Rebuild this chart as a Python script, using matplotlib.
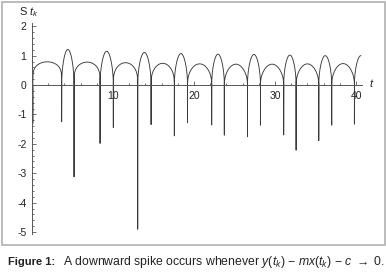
import numpy as np
import matplotlib
matplotlib.use('Agg')
from matplotlib import pyplot as plt
from matplotlib.ticker import MultipleLocator, FixedLocator
from matplotlib.patches import Rectangle

# Values.
# t positions where the curve touches zero (and spikes down).
zeros = [0.1, 3.66, 5.19, 8.4, 10.04, 13.05, 14.7, 17.57, 19.2, 22.18,
         23.74, 26.6, 28.2, 31.07, 32.6, 35.4, 37.0, 39.8]
# depth of the downward spike at each zero
spike_depths = [-1.30, -1.25, -3.12, -1.98, -1.44, -4.90, -1.34, -1.73,
                -1.28, -1.36, -1.70, -1.76, -1.36, -1.70, -2.21, -1.89,
                -1.36, -1.33]
# peak of the arch between consecutive zeros (last one runs off the edge)
arch_peaks = [0.79, 1.21, 0.78, 1.15, 0.76, 1.11, 0.74, 1.07, 0.72, 1.05,
              0.71, 1.04, 0.71, 1.02, 0.72, 1.00, 0.73, 1.00]
# how flat-topped each arch looks (smaller = flatter)
arch_flatness = [0.20, 0.50, 0.24, 0.50, 0.30, 0.50, 0.35, 0.50, 0.40, 0.50,
                 0.45, 0.50, 0.45, 0.50, 0.45, 0.50, 0.45, 0.50]
last_arch_end = 41.4
t_max = 40.6

x_ticks = [10, 20, 30, 40]
y_ticks = [-5, -4, -3, -2, -1, 0, 1, 2]

plt.rcParams['font.family'] = ['Liberation Sans Narrow', 'Liberation Sans', 'DejaVu Sans']
plt.rcParams['axes.unicode_minus'] = False
plt.rcParams['mathtext.fontset'] = 'custom'
plt.rcParams['mathtext.it'] = 'Liberation Sans:italic'
plt.rcParams['mathtext.rm'] = 'Liberation Sans'


def build_curve():
  ends = zeros[1:] + [last_arch_end]
  ts, vs = [], []
  for start, end, peak, p, depth in zip(zeros, ends, arch_peaks,
                                        arch_flatness, spike_depths):
    # spike at the zero, then the arch up to the next zero
    ts += [start, start, start]
    vs += [0.0, depth, 0.0]
    u = np.linspace(0, 1, 120)
    t = start + u * (end - start)
    v = peak * np.sin(np.pi * u) ** p
    keep = t <= t_max
    ts += list(t[keep])
    vs += list(v[keep])
  return np.array(ts), np.array(vs)


fig = plt.figure(figsize=(3.86, 2.77), dpi=100)
ax = fig.add_axes([32 / 386, (277 - 233.5) / 277, 329.7 / 386, 210.2 / 277])

t, s = build_curve()
ax.plot(t, s, color='#3a3a3a', lw=0.65)

ax.set_xlim(0, 40.7)
ax.set_ylim(-5.05, 2.1)

axis_color = '#555555'
for side in ('top', 'right'):
  ax.spines[side].set_visible(False)
ax.spines['left'].set_position(('data', 0))
ax.spines['bottom'].set_position(('data', 0))
for side in ('left', 'bottom'):
  ax.spines[side].set_color(axis_color)
  ax.spines[side].set_linewidth(0.7)

ax.xaxis.set_major_locator(FixedLocator(x_ticks))
ax.xaxis.set_minor_locator(MultipleLocator(2))
ax.yaxis.set_major_locator(FixedLocator(y_ticks))
ax.yaxis.set_minor_locator(MultipleLocator(0.2))
ax.tick_params(which='both', direction='in', color=axis_color, width=0.6,
               labelsize=7.5, labelcolor='#222222')
ax.tick_params(which='major', length=3.2, pad=4)
ax.tick_params(which='minor', length=1.6)
ax.patch.set_visible(False)

fig.text(29 / 386, 1 - 12 / 277, r'S $t_k$', fontsize=8, ha='center',
         va='center', color='#222222')
fig.text(372 / 386, 1 - 83 / 277, r'$t$', fontsize=8, ha='center',
         va='center', color='#222222')

fig.patches.append(Rectangle((1.5 / 386, 1 - 245 / 277), 383.5 / 386,
                             243.5 / 277, transform=fig.transFigure,
                             fill=False, edgecolor='#b0b0b0', lw=1.2))

fig.text(8 / 386, 1 - 262 / 277, 'Figure 1:', fontsize=8,
         fontweight='bold', ha='left', va='center', color='#222222')
fig.text(63 / 386, 1 - 262 / 277,
         r'A downward spike occurs whenever $y(t_k)$ $-$ $mx(t_k)$ $-$ $c$ $\rightarrow$ 0.',
         family=['Liberation Sans', 'DejaVu Sans'], fontsize=8.8,
         ha='left', va='center', color='#222222')

fig.savefig('out.png', dpi=100)
